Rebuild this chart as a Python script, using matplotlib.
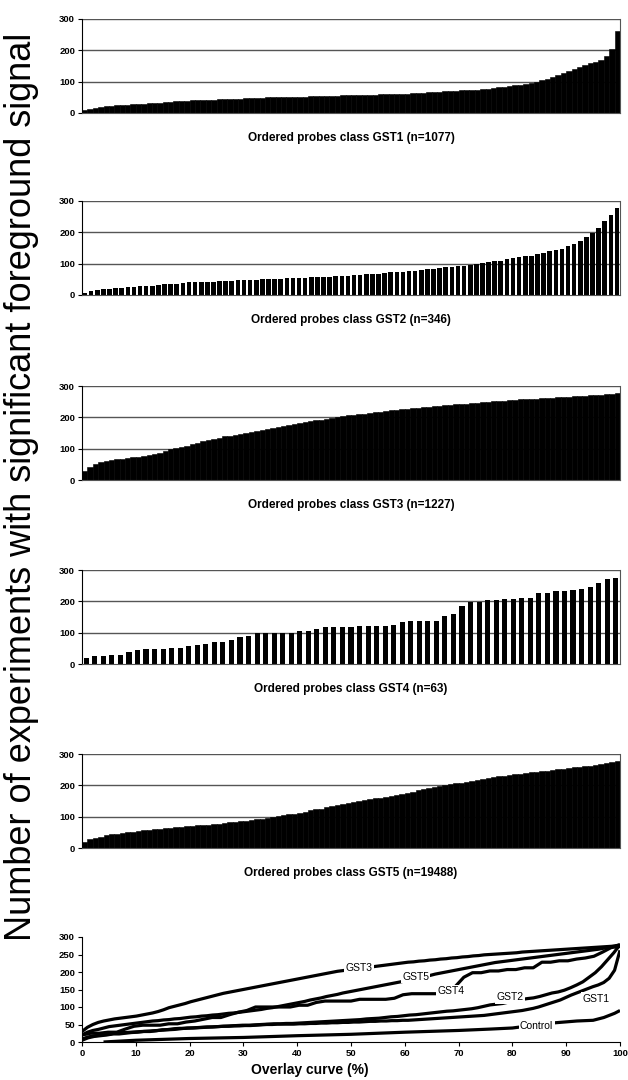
import numpy as np
import matplotlib
matplotlib.use("Agg")
import matplotlib.pyplot as plt

# --- values (percentile-ordered) ---
gst1 = [8, 14, 17, 19, 21, 22, 25, 27, 27, 28, 29, 30, 31, 32, 33, 34, 36, 38, 39, 39,
        40, 41, 42, 43, 43, 44, 45, 45, 46, 46, 47, 47, 48, 49, 50, 50, 51, 51, 51, 51,
        52, 52, 53, 53, 54, 54, 55, 55, 56, 56, 57, 57, 58, 59, 59, 60, 60, 61, 61, 62,
        62, 63, 64, 65, 66, 67, 68, 69, 70, 71, 72, 73, 74, 75, 76, 78, 80, 82, 84, 86,
        88, 90, 93, 96, 100, 105, 110, 115, 120, 127, 134, 140, 146, 152, 158, 163, 170, 182, 205, 262]

gst2 = [5, 12, 16, 18, 20, 23, 23, 25, 27, 28, 30, 30, 32, 35, 35, 36, 38, 40, 40, 41,
        42, 43, 44, 45, 46, 47, 48, 48, 49, 50, 51, 52, 52, 53, 53, 54, 55, 56, 57, 58,
        59, 60, 61, 62, 63, 64, 66, 67, 68, 70, 72, 73, 75, 77, 78, 80, 82, 84, 86, 88,
        89, 91, 93, 95, 98, 102, 106, 108, 110, 114, 118, 121, 124, 126, 130, 135, 140, 143, 148, 155,
        163, 172, 185, 198, 215, 235, 255, 278]

gst3 = [30, 42, 50, 56, 60, 63, 66, 68, 70, 72, 74, 77, 80, 83, 87, 92, 98, 102, 106, 110,
        115, 119, 123, 127, 131, 135, 139, 142, 145, 148, 151, 154, 157, 160, 163, 166, 169, 172, 175, 178,
        181, 184, 187, 190, 193, 196, 199, 202, 204, 206, 208, 210, 212, 214, 216, 218, 220, 222, 224, 226,
        228, 229, 231, 232, 234, 235, 237, 238, 240, 241, 243, 244, 246, 247, 249, 250, 251, 252, 253, 254,
        255, 257, 258, 259, 260, 261, 262, 263, 264, 265, 266, 267, 268, 269, 270, 271, 272, 273, 274, 277]

gst4 = [20, 25, 25, 28, 28, 37, 45, 48, 48, 48, 52, 52, 57, 60, 65, 70, 70, 78, 85, 90,
        100, 100, 100, 100, 100, 105, 105, 113, 117, 117, 117, 117, 122, 122, 122, 122, 125, 135, 138, 138,
        138, 138, 152, 158, 185, 198, 198, 203, 203, 207, 207, 212, 212, 228, 228, 232, 232, 237, 240, 245,
        257, 270, 273]

gst5 = [20, 28, 33, 36, 40, 44, 46, 48, 50, 52, 54, 56, 58, 60, 61, 63, 64, 66, 67, 69,
        71, 72, 74, 75, 77, 78, 80, 82, 83, 85, 87, 89, 91, 93, 96, 98, 101, 104, 107, 110,
        113, 116, 120, 123, 126, 130, 133, 136, 140, 143, 146, 149, 152, 155, 158, 161, 164, 167, 170, 173,
        177, 180, 184, 187, 190, 194, 197, 200, 203, 206, 209, 212, 215, 218, 221, 224, 227, 229, 231, 233,
        235, 237, 239, 241, 243, 245, 247, 249, 251, 253, 255, 257, 259, 261, 263, 265, 268, 271, 274, 278]

# control probes only appear in the overlay
control_pct = [4, 10, 20, 30, 40, 50, 60, 70, 76, 80, 84, 88, 92, 95, 97, 99, 100]
control_val = [0, 5, 10, 13, 18, 22, 28, 33, 37, 40, 48, 55, 60, 62, 70, 82, 90]

titles = ["Ordered probes class GST1 (n=1077)", "Ordered probes class GST2 (n=346)",
          "Ordered probes class GST3 (n=1227)", "Ordered probes class GST4 (n=63)",
          "Ordered probes class GST5 (n=19488)"]
series = [gst1, gst2, gst3, gst4, gst5]
bar_w = [1.0, 0.75, 1.0, 0.6, 1.0]

# overlay label positions (% , value)
lab_names = ["GST3", "GST5", "GST4", "GST2", "GST1", "Control"]
lab_x = [51.5, 62.0, 68.5, 79.5, 95.5, 84.5]
lab_y = [212, 186, 146, 128, 124, 46]

SANS = ["Liberation Sans", "DejaVu Sans"]
GRID = "#555555"

fig = plt.figure(figsize=(6.28, 10.8), dpi=100)
W, H = 628.0, 1080.0
X0, X1 = 82, 620
tops = [19, 201, 386, 570, 754]
PH = 94

for k, (vals, ttl, w) in enumerate(zip(series, titles, bar_w)):
    t = tops[k]
    ax = fig.add_axes([X0/W, 1 - (t + PH)/H, (X1 - X0)/W, PH/H])
    n = len(vals)
    ax.bar(np.arange(n), vals, width=w, color="black",
           edgecolor="black" if w == 1.0 else "none", linewidth=0.4 if w == 1.0 else 0)
    ax.set_xlim(-0.5, n - 0.5)
    ax.set_ylim(0, 300)
    ax.set_yticks([0, 100, 200, 300])
    ax.set_xticks([])
    for yv in (100, 200, 300):
        ax.axhline(yv, color=GRID, lw=1.0, zorder=0.5)
    ax.spines["top"].set_visible(False)
    ax.spines["right"].set_color(GRID)
    ax.spines["right"].set_linewidth(0.8)
    ax.spines["bottom"].set_color(GRID)
    ax.spines["left"].set_color("black")
    ax.tick_params(axis="y", length=3, width=0.8, pad=2, labelsize=6.8)
    for lb in ax.get_yticklabels():
        lb.set_family(SANS)
        lb.set_weight("bold")
    ax.text(0.5, -0.27, ttl, transform=ax.transAxes, ha="center", va="center",
            fontsize=8.5, fontweight="bold", family=SANS)

# --- overlay panel ---
ax = fig.add_axes([X0/W, 1 - 1042/H, (X1 - X0)/W, 105/H])
for vals in series:
    ax.plot(np.linspace(0, 100, len(vals)), vals, color="black", lw=2.3,
            solid_capstyle="butt")
ax.plot(control_pct, control_val, color="black", lw=2.3, solid_capstyle="butt")
for name, x, y in zip(lab_names, lab_x, lab_y):
    ax.text(x, y, name, ha="center", va="center", fontsize=7.5, family=SANS,
            bbox=dict(facecolor="white", edgecolor="none", pad=1.0), zorder=5)
ax.set_xlim(0, 100)
ax.set_ylim(0, 300)
ax.set_xticks(np.arange(0, 101, 10))
ax.set_yticks(np.arange(0, 301, 50))
ax.spines["top"].set_visible(False)
ax.spines["right"].set_visible(False)
ax.tick_params(length=3, width=0.8, pad=2, labelsize=6.8)
for lb in ax.get_yticklabels() + ax.get_xticklabels():
    lb.set_family(SANS)
    lb.set_weight("bold")
fig.text(310/W, 1 - 1070/H, "Overlay curve (%)", ha="center", va="center",
         fontsize=10, fontweight="bold", family=SANS)

fig.text(22/W, 1 - 487/H, "Number of experiments with significant foreground signal",
         rotation=90, ha="center", va="center", fontsize=26, family=SANS)

fig.savefig("out.png", dpi=100)
